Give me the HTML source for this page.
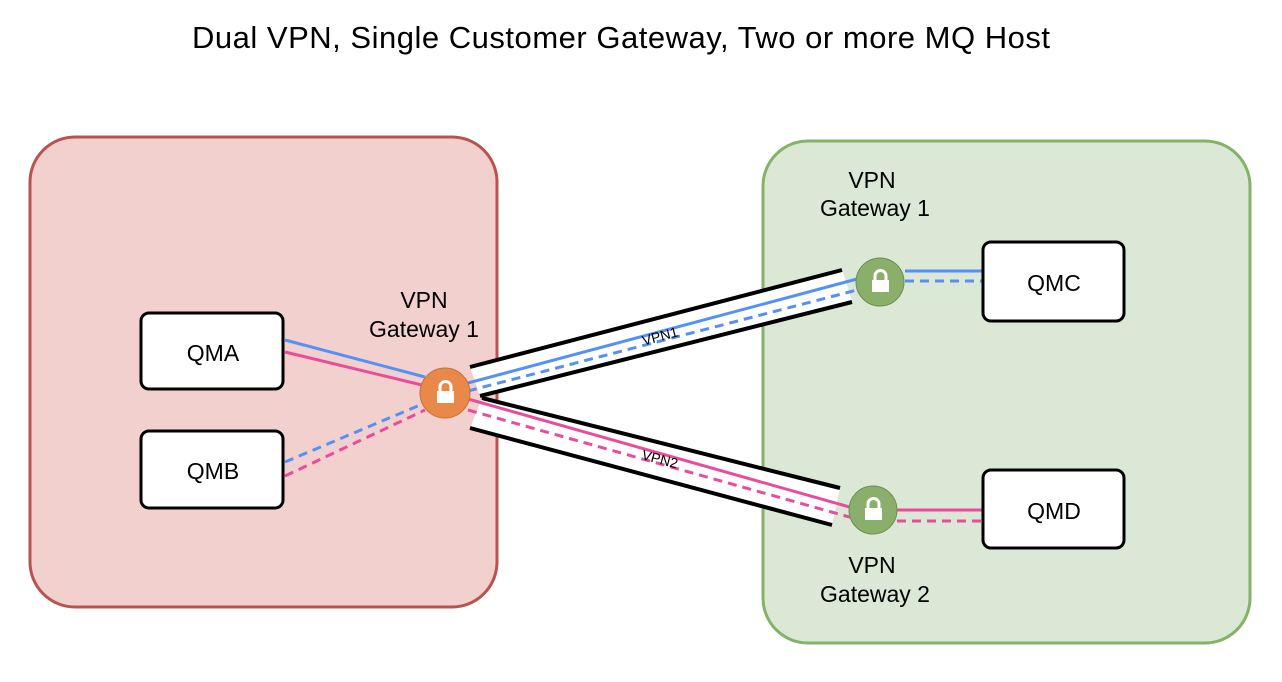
<!DOCTYPE html>
<html><head><meta charset="utf-8"><style>
html,body{margin:0;padding:0;background:#fff;}
svg{display:block;font-family:"Liberation Sans",Arial,sans-serif;}
</style></head><body>
<svg width="1282" height="682" viewBox="0 0 1282 682" xmlns="http://www.w3.org/2000/svg">
<text x="621" y="48" font-size="31" text-anchor="middle" textLength="858" fill="#000">Dual VPN, Single Customer Gateway, Two or more MQ Host</text>
<rect x="30" y="137" width="467" height="470" rx="45" fill="#f2d0ce" stroke="#b85450" stroke-width="3"/>
<rect x="763" y="141" width="487" height="502" rx="45" fill="#dae8d5" stroke="#82b366" stroke-width="3"/>
<polygon points="470,367 842,270 852,300 480,396" fill="#fff"/>
<line x1="470" y1="367" x2="842" y2="270" stroke="#000" stroke-width="4"/>
<line x1="480" y1="396" x2="852" y2="302" stroke="#000" stroke-width="4"/>
<polygon points="482,398 840,488 832,525 470,428" fill="#fff"/>
<line x1="482" y1="398" x2="840" y2="488" stroke="#000" stroke-width="4"/>
<line x1="470" y1="428" x2="832" y2="525" stroke="#000" stroke-width="4"/>
<line x1="468" y1="383" x2="857" y2="279" stroke="#5591f5" stroke-width="3"/>
<line x1="468" y1="391" x2="857" y2="290" stroke="#5591f5" stroke-width="3" stroke-dasharray="9,6"/>
<line x1="468" y1="399" x2="860" y2="510" stroke="#ea4c9c" stroke-width="3"/>
<line x1="468" y1="410" x2="860" y2="520" stroke="#ea4c9c" stroke-width="3" stroke-dasharray="9,6"/>
<text x="660" y="341" font-size="14" text-anchor="middle" transform="rotate(-15 660 336)">VPN1</text>
<text x="660" y="464" font-size="14" text-anchor="middle" transform="rotate(15 660 459)">VPN2</text>
<line x1="285" y1="340" x2="425" y2="377" stroke="#5591f5" stroke-width="3"/>
<line x1="285" y1="352" x2="422" y2="385" stroke="#ea4c9c" stroke-width="3"/>
<line x1="285" y1="462" x2="420" y2="405" stroke="#5591f5" stroke-width="3" stroke-dasharray="9,6"/>
<line x1="285" y1="476" x2="425" y2="410" stroke="#ea4c9c" stroke-width="3" stroke-dasharray="9,6"/>
<line x1="905" y1="271" x2="983" y2="271" stroke="#5591f5" stroke-width="3"/>
<line x1="905" y1="281" x2="983" y2="281" stroke="#5591f5" stroke-width="3" stroke-dasharray="9,6"/>
<line x1="897" y1="510" x2="983" y2="510" stroke="#ea4c9c" stroke-width="3"/>
<line x1="897" y1="521" x2="983" y2="521" stroke="#ea4c9c" stroke-width="3" stroke-dasharray="9,6"/>
<g fill="#fff" stroke="#000" stroke-width="3">
<rect x="141" y="313" width="142" height="76" rx="8"/>
<rect x="141" y="431" width="142" height="77" rx="8"/>
<rect x="983" y="242" width="141" height="79" rx="8"/>
<rect x="983" y="470" width="141" height="78" rx="8"/>
</g>
<g font-size="23" text-anchor="middle">
<text x="213" y="361">QMA</text>
<text x="213" y="479">QMB</text>
<text x="1054" y="291">QMC</text>
<text x="1054" y="519">QMD</text>
<text x="424" y="308">VPN</text>
<text x="424" y="337">Gateway 1</text>
<text x="872" y="188">VPN</text>
<text x="875" y="216">Gateway 1</text>
<text x="872" y="573">VPN</text>
<text x="875" y="602">Gateway 2</text>
</g>
<circle cx="445" cy="393" r="25" fill="#e8894a" stroke="#c8703a" stroke-width="1"/>
<circle cx="880" cy="282" r="24" fill="#8aaf6b" stroke="#6d8f55" stroke-width="1"/>
<circle cx="873" cy="510" r="24" fill="#8aaf6b" stroke="#6d8f55" stroke-width="1"/>
<g fill="#fff" stroke="#fff">
<rect x="437" y="391" width="17" height="12" stroke="none"/>
<path d="M440,392 v-5 a5.5,5.5 0 0 1 11,0 v5" fill="none" stroke-width="3"/>
<rect x="872" y="280" width="17" height="12" stroke="none"/>
<path d="M875,281 v-5 a5.5,5.5 0 0 1 11,0 v5" fill="none" stroke-width="3"/>
<rect x="865" y="508" width="17" height="12" stroke="none"/>
<path d="M868,509 v-5 a5.5,5.5 0 0 1 11,0 v5" fill="none" stroke-width="3"/>
</g>
</svg>
</body></html>
